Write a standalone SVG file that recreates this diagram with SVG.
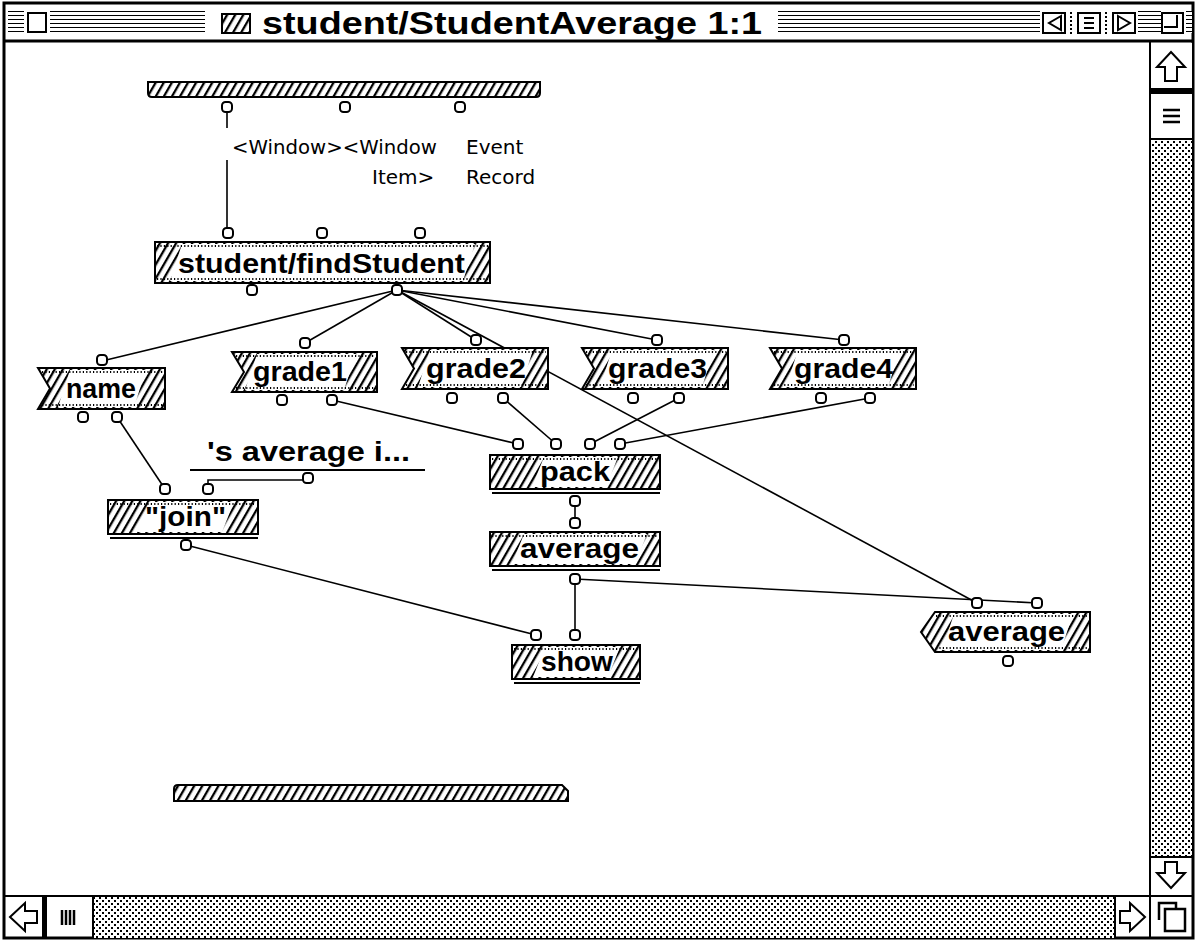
<svg xmlns="http://www.w3.org/2000/svg" xmlns:xlink="http://www.w3.org/1999/xlink" width="1198" height="942" viewBox="0 0 1198 942">
<style>
.frame{fill:none;stroke:#000;stroke-width:2}
.ticks{fill:none;stroke:#000;stroke-width:2;stroke-dasharray:1.2 2.2}
.term{fill:#fff;stroke:#000;stroke-width:2}
.wire{fill:none;stroke:#000;stroke-width:1.6}
.op{font-family:"Liberation Sans",Arial,sans-serif;font-weight:bold;font-size:27px;fill:#000}
.cmt{font-family:"DejaVu Sans",sans-serif;font-size:20px;fill:#000}
.title{font-family:"Liberation Sans",Arial,sans-serif;font-weight:bold;font-size:31px;fill:#000}
.w{fill:#fff}
.box{fill:#fff;stroke:#000;stroke-width:2}
.arrow{fill:#fff;stroke:#000;stroke-width:2;stroke-linejoin:miter}
</style>
<defs>
<pattern id="hatch" patternUnits="userSpaceOnUse" width="7" height="7" patternTransform="rotate(30)">
<rect width="7" height="7" fill="#fff"/><rect width="2.3" height="7" fill="#000"/>
</pattern>
<pattern id="dots" patternUnits="userSpaceOnUse" width="6" height="6">
<rect width="6" height="6" fill="#fff"/><rect x="0" y="0" width="2" height="2" fill="#000"/><rect x="3" y="3" width="2" height="2" fill="#000"/>
</pattern>
<pattern id="hstripe" patternUnits="userSpaceOnUse" width="4" height="4">
<rect width="4" height="4" fill="#fff"/><rect y="3" width="4" height="2" fill="#000"/><rect y="-1" width="4" height="1" fill="#000"/>
</pattern>
<rect id="tm" x="-5" y="-5" width="10" height="10" rx="3.5" class="term"/>
</defs>

<!-- window chrome -->
<g id="window">
<rect x="4" y="3" width="1189" height="935" fill="#fff" stroke="#000" stroke-width="3"/>
<line x1="4" y1="41" x2="1193" y2="41" stroke="#000" stroke-width="3"/>
<rect x="8" y="11" width="16" height="22" fill="url(#hstripe)"/>
<rect x="28" y="13" width="18" height="19" class="box"/>
<rect x="50" y="11" width="155" height="22" fill="url(#hstripe)"/>
<rect x="222" y="14" width="28" height="19" fill="url(#hatch)" stroke="#000" stroke-width="2"/>
<text class="title" x="262" y="34" textLength="500" lengthAdjust="spacingAndGlyphs">student/StudentAverage 1:1</text>
<rect x="778" y="11" width="262" height="22" fill="url(#hstripe)"/>
<rect x="1043" y="13" width="22" height="20" class="box"/>
<path d="M1061,16 L1049,23 L1061,30 Z" class="arrow" stroke-width="1.8"/>
<line x1="1071" y1="12" x2="1071" y2="34" stroke="#000" stroke-width="2" stroke-dasharray="2 2"/>
<rect x="1078" y="13" width="22" height="20" class="box"/>
<path d="M1084,18 H1094 M1084,23 H1094 M1084,28 H1094" stroke="#000" stroke-width="2"/>
<line x1="1106" y1="12" x2="1106" y2="34" stroke="#000" stroke-width="2" stroke-dasharray="2 2"/>
<rect x="1113" y="13" width="22" height="20" class="box"/>
<path d="M1118,16 L1130,23 L1118,30 Z" class="arrow" stroke-width="1.8"/>
<rect x="1138" y="11" width="23" height="22" fill="url(#hstripe)"/>
<rect x="1162" y="13" width="21" height="20" class="box"/>
<path d="M1177,15 V27 H1164" fill="none" stroke="#000" stroke-width="2"/>
<rect x="1186" y="11" width="6" height="22" fill="url(#hstripe)"/>

<!-- vertical scrollbar -->
<line x1="1150" y1="42" x2="1150" y2="938" stroke="#000" stroke-width="2"/>
<rect x="1151" y="43" width="41" height="45" fill="#fff"/>
<path d="M1171,52 L1185,67 L1177,67 L1177,81 L1165,81 L1165,67 L1157,67 Z" class="arrow"/>
<rect x="1151" y="88" width="41" height="6" fill="#000"/>
<rect x="1151" y="94" width="41" height="44" fill="#fff"/>
<path d="M1163,110 H1180 M1163,116 H1180 M1163,122 H1180" stroke="#000" stroke-width="2.5"/>
<line x1="1151" y1="139" x2="1192" y2="139" stroke="#000" stroke-width="2"/>
<rect x="1151" y="140" width="41" height="716" fill="url(#dots)"/>
<line x1="1151" y1="857" x2="1192" y2="857" stroke="#000" stroke-width="2"/>
<path d="M1171,888 L1185,873 L1177,873 L1177,862 L1165,862 L1165,873 L1157,873 Z" class="arrow"/>

<!-- horizontal scrollbar -->
<line x1="4" y1="896" x2="1193" y2="896" stroke="#000" stroke-width="2"/>
<path d="M10,917 L25,903 L25,911 L37,911 L37,923 L25,923 L25,931 Z" class="arrow"/>
<rect x="42" y="897" width="5" height="41" fill="#000"/>
<path d="M62,910 V925 M66,910 V925 M70,910 V925 M74,910 V925" stroke="#000" stroke-width="2.5"/>
<line x1="93" y1="897" x2="93" y2="938" stroke="#000" stroke-width="2"/>
<rect x="94" y="897" width="1021" height="41" fill="url(#dots)"/>
<line x1="1115" y1="897" x2="1115" y2="938" stroke="#000" stroke-width="2"/>
<path d="M1145,917 L1130,903 L1130,911 L1120,911 L1120,923 L1130,923 L1130,931 Z" class="arrow"/>
<path d="M1159,920 V903 H1176 V909" fill="none" stroke="#000" stroke-width="2.5"/>
<rect x="1165" y="909" width="20" height="22" fill="none" stroke="#000" stroke-width="2.5"/>
</g>

<!-- connectors -->
<g id="connectors" class="wire">
<path d="M227,112 V128 M227,160 V229"/>
<line x1="397" y1="290" x2="102" y2="361"/>
<line x1="397" y1="290" x2="305" y2="343"/>
<line x1="397" y1="290" x2="476" y2="340"/>
<line x1="397" y1="290" x2="657" y2="340"/>
<line x1="397" y1="290" x2="844" y2="340"/>
<line x1="397" y1="290" x2="977" y2="603"/>
<line x1="117" y1="417" x2="165" y2="489"/>
<path d="M208,486 V480 H308"/>
<line x1="332" y1="400" x2="518" y2="444"/>
<line x1="503" y1="398" x2="556" y2="444"/>
<line x1="679" y1="398" x2="590" y2="444"/>
<line x1="870" y1="398" x2="620" y2="444"/>
<line x1="575" y1="501" x2="575" y2="523"/>
<line x1="575" y1="579" x2="575" y2="635"/>
<line x1="575" y1="579" x2="1037" y2="603"/>
<line x1="186" y1="545" x2="536" y2="635"/>
</g>

<!-- input bar -->
<g id="input-bar">
<path d="M148,82 H540 V93 Q540,97 536,97 H152 Q148,97 148,93 Z" fill="url(#hatch)" stroke="#000" stroke-width="2"/>
<use xlink:href="#tm" x="227" y="107"/>
<use xlink:href="#tm" x="345" y="107"/>
<use xlink:href="#tm" x="460" y="107"/>
<text class="cmt" x="232" y="154" textLength="205" lengthAdjust="spacingAndGlyphs">&lt;Window&gt;&lt;Window</text>
<text class="cmt" x="466" y="154">Event</text>
<text class="cmt" x="372" y="184">Item&gt;</text>
<text class="cmt" x="466" y="184">Record</text>
</g>

<!-- student/findStudent -->
<g id="findStudent">
<rect x="155" y="242" width="335" height="41" fill="url(#hatch)"/>
<polygon class="w" points="170,281 182,244 475,244 463,281"/>
<rect x="155" y="242" width="335" height="41" class="frame"/>
<line x1="157" y1="246" x2="488" y2="246" class="ticks"/>
<line x1="157" y1="279" x2="488" y2="279" class="ticks"/>
<text class="op" x="178" y="273" textLength="287" lengthAdjust="spacingAndGlyphs">student/findStudent</text>
<use xlink:href="#tm" x="228" y="233"/>
<use xlink:href="#tm" x="322" y="233"/>
<use xlink:href="#tm" x="420" y="233"/>
<use xlink:href="#tm" x="252" y="290"/>
<use xlink:href="#tm" x="397" y="290"/>
</g>

<!-- name -->
<g id="name">
<polygon points="38,368 165,368 165,409 38,409 50,388.5" fill="url(#hatch)"/>
<polygon class="w" points="58,407 70,370 146,370 134,407"/>
<polygon points="38,368 165,368 165,409 38,409 50,388.5" class="frame"/>
<line x1="42" y1="372" x2="163" y2="372" class="ticks"/>
<line x1="42" y1="405" x2="163" y2="405" class="ticks"/>
<text class="op" x="66" y="398" textLength="70" lengthAdjust="spacingAndGlyphs">name</text>
<use xlink:href="#tm" x="102" y="360"/>
<use xlink:href="#tm" x="83" y="417"/>
<use xlink:href="#tm" x="117" y="417"/>
</g>

<!-- grade1 -->
<g id="grade1">
<polygon points="232,352 377,352 377,392 232,392 244,372" fill="url(#hatch)"/>
<polygon class="w" points="245,390 257,354 356,354 344,390"/>
<polygon points="232,352 377,352 377,392 232,392 244,372" class="frame"/>
<line x1="236" y1="356" x2="375" y2="356" class="ticks"/>
<line x1="236" y1="388" x2="375" y2="388" class="ticks"/>
<text class="op" x="253" y="381" textLength="94" lengthAdjust="spacingAndGlyphs">grade1</text>
<use xlink:href="#tm" x="305" y="343"/>
<use xlink:href="#tm" x="282" y="400"/>
<use xlink:href="#tm" x="332" y="400"/>
</g>

<!-- grade2 -->
<g id="grade2">
<polygon points="402,348 548,348 548,389 402,389 414,368.5" fill="url(#hatch)"/>
<polygon class="w" points="418,387 430,350 533,350 521,387"/>
<polygon points="402,348 548,348 548,389 402,389 414,368.5" class="frame"/>
<line x1="406" y1="352" x2="546" y2="352" class="ticks"/>
<line x1="406" y1="385" x2="546" y2="385" class="ticks"/>
<text class="op" x="426" y="378" textLength="100" lengthAdjust="spacingAndGlyphs">grade2</text>
<use xlink:href="#tm" x="476" y="340"/>
<use xlink:href="#tm" x="452" y="398"/>
<use xlink:href="#tm" x="503" y="398"/>
</g>

<!-- grade3 -->
<g id="grade3">
<polygon points="582,348 728,348 728,389 582,389 594,368.5" fill="url(#hatch)"/>
<polygon class="w" points="600,387 612,350 714,350 702,387"/>
<polygon points="582,348 728,348 728,389 582,389 594,368.5" class="frame"/>
<line x1="586" y1="352" x2="726" y2="352" class="ticks"/>
<line x1="586" y1="385" x2="726" y2="385" class="ticks"/>
<text class="op" x="608" y="378" textLength="99" lengthAdjust="spacingAndGlyphs">grade3</text>
<use xlink:href="#tm" x="657" y="340"/>
<use xlink:href="#tm" x="633" y="398"/>
<use xlink:href="#tm" x="679" y="398"/>
</g>

<!-- grade4 -->
<g id="grade4">
<polygon points="770,348 916,348 916,389 770,389 782,368.5" fill="url(#hatch)"/>
<polygon class="w" points="786,387 798,350 900,350 888,387"/>
<polygon points="770,348 916,348 916,389 770,389 782,368.5" class="frame"/>
<line x1="774" y1="352" x2="914" y2="352" class="ticks"/>
<line x1="774" y1="385" x2="914" y2="385" class="ticks"/>
<text class="op" x="794" y="378" textLength="99" lengthAdjust="spacingAndGlyphs">grade4</text>
<use xlink:href="#tm" x="844" y="340"/>
<use xlink:href="#tm" x="821" y="398"/>
<use xlink:href="#tm" x="870" y="398"/>
</g>

<!-- constant -->
<g id="constant">
<text class="op" x="207" y="461" textLength="203" lengthAdjust="spacingAndGlyphs">'s average i...</text>
<line x1="190" y1="470" x2="425" y2="470" stroke="#000" stroke-width="2"/>
<use xlink:href="#tm" x="308" y="478"/>
</g>

<!-- join -->
<g id="join">
<rect x="108" y="500" width="150" height="34" fill="url(#hatch)"/>
<polygon class="w" points="137,532 149,502 234,502 222,532"/>
<rect x="108" y="500" width="150" height="34" class="frame"/>
<line x1="110" y1="504" x2="256" y2="504" class="ticks"/>
<line x1="110" y1="538" x2="258" y2="538" stroke="#000" stroke-width="2"/>
<text class="op" x="145" y="526" textLength="81" lengthAdjust="spacingAndGlyphs">"join"</text>
<use xlink:href="#tm" x="165" y="489"/>
<use xlink:href="#tm" x="208" y="489"/>
<use xlink:href="#tm" x="186" y="545"/>
</g>

<!-- pack -->
<g id="pack">
<rect x="490" y="455" width="170" height="34" fill="url(#hatch)"/>
<polygon class="w" points="532,487 544,457 618,457 606,487"/>
<rect x="490" y="455" width="170" height="34" class="frame"/>
<line x1="492" y1="459" x2="658" y2="459" class="ticks"/>
<line x1="492" y1="493" x2="660" y2="493" stroke="#000" stroke-width="2"/>
<text class="op" x="540" y="481" textLength="70" lengthAdjust="spacingAndGlyphs">pack</text>
<use xlink:href="#tm" x="518" y="444"/>
<use xlink:href="#tm" x="556" y="444"/>
<use xlink:href="#tm" x="590" y="444"/>
<use xlink:href="#tm" x="620" y="444"/>
<use xlink:href="#tm" x="575" y="501"/>
</g>

<!-- average (primitive) -->
<g id="average">
<rect x="490" y="532" width="170" height="34" fill="url(#hatch)"/>
<polygon class="w" points="512,564 524,534 647,534 635,564"/>
<rect x="490" y="532" width="170" height="34" class="frame"/>
<line x1="492" y1="536" x2="658" y2="536" class="ticks"/>
<line x1="492" y1="570" x2="660" y2="570" stroke="#000" stroke-width="2"/>
<text class="op" x="520" y="558" textLength="119" lengthAdjust="spacingAndGlyphs">average</text>
<use xlink:href="#tm" x="575" y="523"/>
<use xlink:href="#tm" x="575" y="579"/>
</g>

<!-- show -->
<g id="show">
<rect x="512" y="645" width="128" height="34" fill="url(#hatch)"/>
<polygon class="w" points="533,677 545,647 620,647 608,677"/>
<rect x="512" y="645" width="128" height="34" class="frame"/>
<line x1="514" y1="649" x2="638" y2="649" class="ticks"/>
<line x1="514" y1="683" x2="640" y2="683" stroke="#000" stroke-width="2"/>
<text class="op" x="541" y="671" textLength="72" lengthAdjust="spacingAndGlyphs">show</text>
<use xlink:href="#tm" x="536" y="635"/>
<use xlink:href="#tm" x="575" y="635"/>
</g>

<!-- average (set) -->
<g id="average-set">
<polygon points="935,612 1090,612 1090,652 935,652 921,632" fill="url(#hatch)"/>
<polygon class="w" points="942,650 954,614 1073,614 1061,650"/>
<polygon points="935,612 1090,612 1090,652 935,652 921,632" class="frame"/>
<line x1="936" y1="616" x2="1088" y2="616" class="ticks"/>
<line x1="936" y1="648" x2="1088" y2="648" class="ticks"/>
<text class="op" x="948" y="641" textLength="117" lengthAdjust="spacingAndGlyphs">average</text>
<use xlink:href="#tm" x="977" y="603"/>
<use xlink:href="#tm" x="1037" y="603"/>
<use xlink:href="#tm" x="1008" y="661"/>
</g>

<!-- output bar -->
<g id="output-bar">
<path d="M178,785 H562 L568,791 V801 H174 V789 Q174,785 178,785 Z" fill="url(#hatch)" stroke="#000" stroke-width="2"/>
</g>
</svg>
